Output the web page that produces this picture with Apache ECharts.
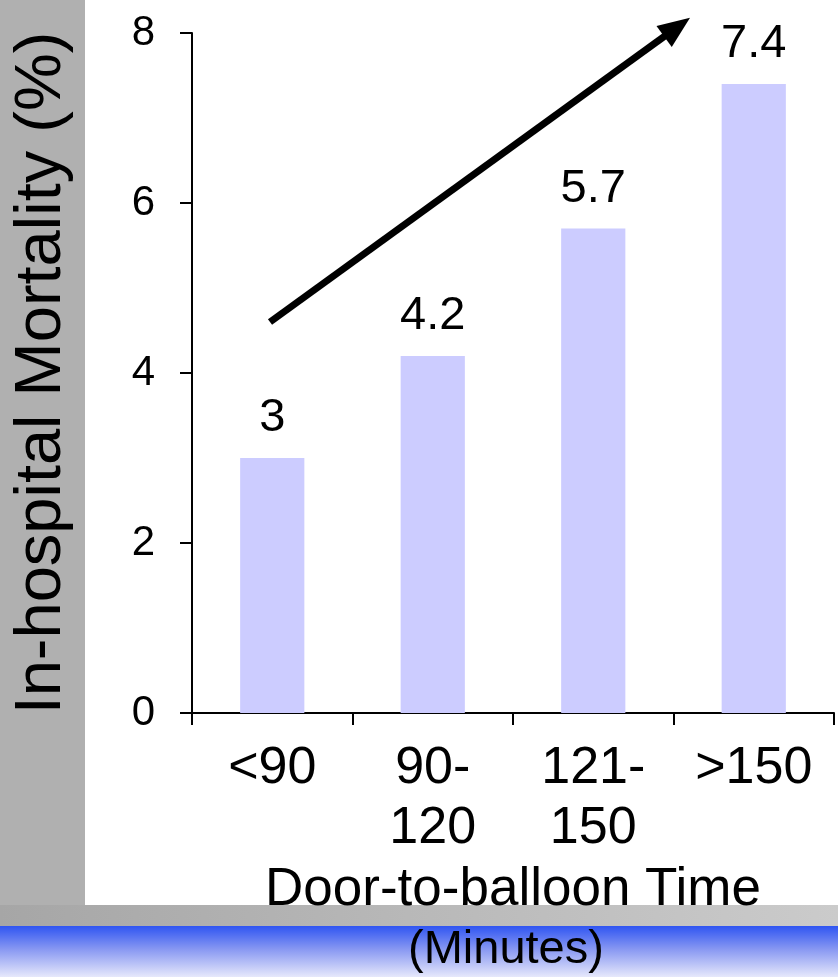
<!DOCTYPE html>
<html>
<head>
<meta charset="utf-8">
<script src="https://cdn.jsdelivr.net/npm/echarts@6/dist/echarts.min.js"></script>
<style>
  html, body { margin: 0; padding: 0; background: #ffffff; }
  #chart { width: 838px; height: 977px; }
</style>
</head>
<body>
<div id="chart"></div>
<script>
// Door-to-balloon time groups and in-hospital mortality (%)
const categories = ['<90', '90-\n120', '121-\n150', '>150'];
const mortality = [3, 4.2, 5.7, 7.4];
const yTicks = { min: 0, max: 8, interval: 2 };

// Trend arrow, in data units (x as a fractional category index, y in %)
const trendStart = [-0.014, 4.6];
const trendEnd = [2.603, 8.18];

const FONT = "'Liberation Sans', Arial, Helvetica, sans-serif";

const chart = echarts.init(document.getElementById('chart'), null, { renderer: 'canvas' });

const panels = [
  // grey side panel
  { type: 'rect', id: 'side', z: -10, shape: { x: 0, y: 0, width: 85, height: 926 },
    style: { fill: '#b0b0b0' } },
  // grey bottom strip
  { type: 'rect', id: 'strip', z: -10, shape: { x: 0, y: 905, width: 838, height: 21 },
    style: { fill: new echarts.graphic.LinearGradient(0, 0, 1, 0, [
      { offset: 0, color: '#a6a6a6' }, { offset: 1, color: '#cbcbcb' }]) } },
  // blue band
  { type: 'rect', id: 'band', z: -10, shape: { x: 0, y: 926, width: 838, height: 51 },
    style: { fill: new echarts.graphic.LinearGradient(0, 0, 0, 1, [
      { offset: 0, color: '#2f55f2' }, { offset: 0.45, color: '#8797f2' }, { offset: 1, color: '#e6e8fb' }]) } },
  { type: 'text', id: 'unit', z: 10, left: 408, top: 927,
    style: { text: '(Minutes)', font: '47px ' + FONT, fill: '#000' } }
];

chart.setOption({
  animation: false,
  backgroundColor: '#ffffff',
  textStyle: { fontFamily: FONT, color: '#000' },
  graphic: panels,
  grid: { left: 192, right: 4, top: 33, bottom: 264, containLabel: false },
  xAxis: {
    type: 'category',
    data: categories,
    axisLine: { show: true, lineStyle: { color: '#000', width: 2 } },
    axisTick: { show: true, length: 12, alignWithLabel: false, lineStyle: { color: '#000', width: 2 } },
    axisLabel: { fontSize: 52, lineHeight: 60, color: '#000', margin: 26, fontFamily: FONT, interval: 0 },
    name: 'Door-to-balloon Time',
    nameLocation: 'middle',
    nameGap: 136,
    nameTextStyle: { fontSize: 53, color: '#000', fontFamily: FONT }
  },
  yAxis: {
    type: 'value',
    min: yTicks.min, max: yTicks.max, interval: yTicks.interval,
    splitLine: { show: false },
    axisLine: { show: true, lineStyle: { color: '#000', width: 2 } },
    axisTick: { show: true, length: 12, inside: false, lineStyle: { color: '#000', width: 2 } },
    axisLabel: { fontSize: 42, color: '#000', margin: 37, fontFamily: FONT },
    name: 'In-hospital Mortality (%)',
    nameLocation: 'middle',
    nameRotate: 90,
    nameGap: 117,
    nameTextStyle: { fontSize: 65, color: '#000', fontFamily: FONT }
  },
  series: [
    {
      type: 'bar',
      data: mortality,
      barCategoryGap: '60%',
      itemStyle: { color: '#ccccff' },
      label: { show: true, position: 'top', distance: 16, fontSize: 47, color: '#000', fontFamily: FONT }
    }
  ]
});

// Trend arrow placed through the chart's own axes
function toPixel(pt) {
  const c0 = chart.convertToPixel({ xAxisIndex: 0 }, 0);
  const c1 = chart.convertToPixel({ xAxisIndex: 0 }, 1);
  const x = c0 + pt[0] * (c1 - c0);
  const y = chart.convertToPixel({ yAxisIndex: 0 }, pt[1]);
  return [x, y];
}
const a = toPixel(trendStart);
const b = toPixel(trendEnd);
const dx = b[0] - a[0], dy = b[1] - a[1];
const len = Math.sqrt(dx * dx + dy * dy);
const ux = dx / len, uy = dy / len;
const nx = -uy, ny = ux;
const headLen = 32, headHalf = 13;
const base = [b[0] - ux * headLen, b[1] - uy * headLen];

chart.setOption({
  graphic: panels.concat([
    { type: 'line', id: 'trendLine', z: 100,
      shape: { x1: a[0], y1: a[1], x2: base[0] + ux * 2, y2: base[1] + uy * 2 },
      style: { stroke: '#000', lineWidth: 7, lineCap: 'butt' } },
    { type: 'polygon', id: 'trendHead', z: 100,
      shape: { points: [b, [base[0] + nx * headHalf, base[1] + ny * headHalf], [base[0] - nx * headHalf, base[1] - ny * headHalf]] },
      style: { fill: '#000' } }
  ])
});
</script>
</body>
</html>
